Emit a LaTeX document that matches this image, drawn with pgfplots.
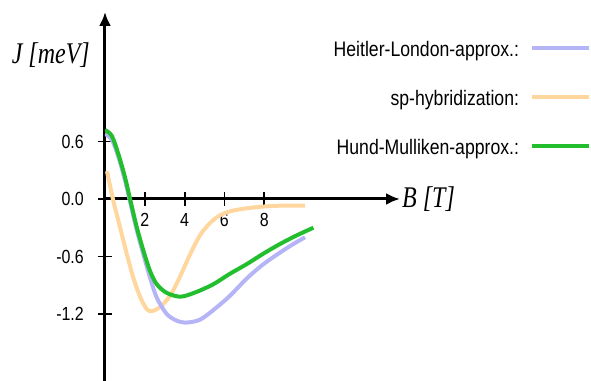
\documentclass[border=0pt]{standalone}
\usepackage{fontspec}
\setmainfont{Liberation Sans}
\newfontfamily\narrowsans[FakeStretch=0.84]{Liberation Sans}
\newfontfamily\narrowserif[FakeStretch=0.8]{Liberation Serif}
\usepackage{pgfplots}
\pgfplotsset{compat=1.18}
\usetikzlibrary{arrows.meta}
\definecolor{hlblue}{HTML}{B4B4F6}
\definecolor{sporange}{HTML}{FFD69E}
\definecolor{hmgreen}{HTML}{22BE2E}

\begin{document}
\begin{tikzpicture}
\begin{axis}[
    at={(0,0)}, anchor=south west,
    scale only axis, width=295bp, height=369bp,
    xmin=0, xmax=14.82, ymin=-1.90, ymax=1.952,
    axis lines=middle,
    axis line style={line width=3bp, -{Latex[length=14bp,width=12bp]}},
    hide obscured x ticks=false, hide obscured y ticks=false,
    xtick={2,4,6,8}, xticklabels={2,4,6,8},
    ytick={-1.2,-0.6,0,0.6}, yticklabels={-1.2,-0.6,0.0,0.6},
    tick align=center, major tick length=14bp,
    tick style={line width=1.8bp, black},
    xticklabel style={font=\fontsize{19bp}{21bp}\narrowsans, anchor=north,
        inner sep=0pt, yshift=-7bp},
    yticklabel style={font=\fontsize{19bp}{21bp}\narrowsans, anchor=east,
        inner sep=0pt, xshift=-14bp},
    xlabel={B [T]}, ylabel={J [meV]},
    xlabel style={font=\fontsize{30bp}{32bp}\narrowserif\itshape,
        at={(axis description cs:1,0.4932)}, anchor=west, inner sep=0pt, xshift=2bp},
    ylabel style={font=\fontsize{30bp}{32bp}\narrowserif\itshape,
        at={(axis description cs:0,0.883)}, anchor=east, inner sep=0pt, xshift=-15bp},
    legend plot pos=right, legend cell align=right,
    legend image code/.code={\draw[#1] (0bp,3bp) -- (57bp,3bp);},
    legend style={
        at={(axis description cs:1.6475,0.9187)}, anchor=north east,
        draw=none, fill=none, inner sep=0pt, outer sep=0pt,
        row sep=30bp, column sep=11bp,
        font=\fontsize{21bp}{23bp}\narrowsans,
        nodes={inner sep=0pt, text height=15bp, text depth=4bp},
    },
]
\addlegendimage{hlblue, line width=4bp}
\addlegendentry{Heitler-London-approx.:}
\addlegendimage{sporange, line width=4bp}
\addlegendentry{sp-hybridization:}
\addlegendimage{hmgreen, line width=4bp}
\addlegendentry{Hund-Mulliken-approx.:}

% sp-hybridization
\addplot[sporange, line width=4bp, smooth, forget plot] coordinates {
    (0.1,0.29) (0.42,-0.02) (0.75,-0.29) (1.09,-0.57) (1.42,-0.82)
    (1.76,-1.02) (2.1,-1.15) (2.35,-1.17) (2.76,-1.13) (3.27,-1.01)
    (3.77,-0.81) (4.27,-0.58) (4.77,-0.38) (5.28,-0.25) (5.78,-0.17)
    (6.45,-0.12) (7.62,-0.085) (8.8,-0.07) (10.05,-0.07)
};
% Heitler-London
\addplot[hlblue, line width=4bp, smooth, forget plot] coordinates {
    (0,0.68) (0.34,0.62) (0.67,0.44) (1.0,0.2) (1.26,-0.03) (1.59,-0.32)
    (1.93,-0.58) (2.26,-0.82) (2.6,-1.03) (3.1,-1.2) (3.6,-1.27)
    (4.1,-1.29) (4.77,-1.26) (5.44,-1.16) (6.28,-1.01) (7.12,-0.83)
    (7.96,-0.68) (8.79,-0.56) (9.46,-0.47) (10.05,-0.40)
};
% Hund-Mulliken
\addplot[hmgreen, line width=4bp, smooth, forget plot] coordinates {
    (0,0.72) (0.34,0.66) (0.67,0.47) (1.0,0.23) (1.26,0) (1.59,-0.29)
    (1.93,-0.54) (2.26,-0.75) (2.6,-0.89) (3.1,-0.98) (3.8,-1.02)
    (4.6,-0.97) (5.44,-0.89) (6.28,-0.78) (7.12,-0.68) (7.96,-0.57)
    (8.79,-0.47) (9.63,-0.38) (10.47,-0.30)
};
\end{axis}
\pgfresetboundingbox
\path[use as bounding box] (-105bp,0bp) rectangle (486bp,381bp);
\end{tikzpicture}
\end{document}
